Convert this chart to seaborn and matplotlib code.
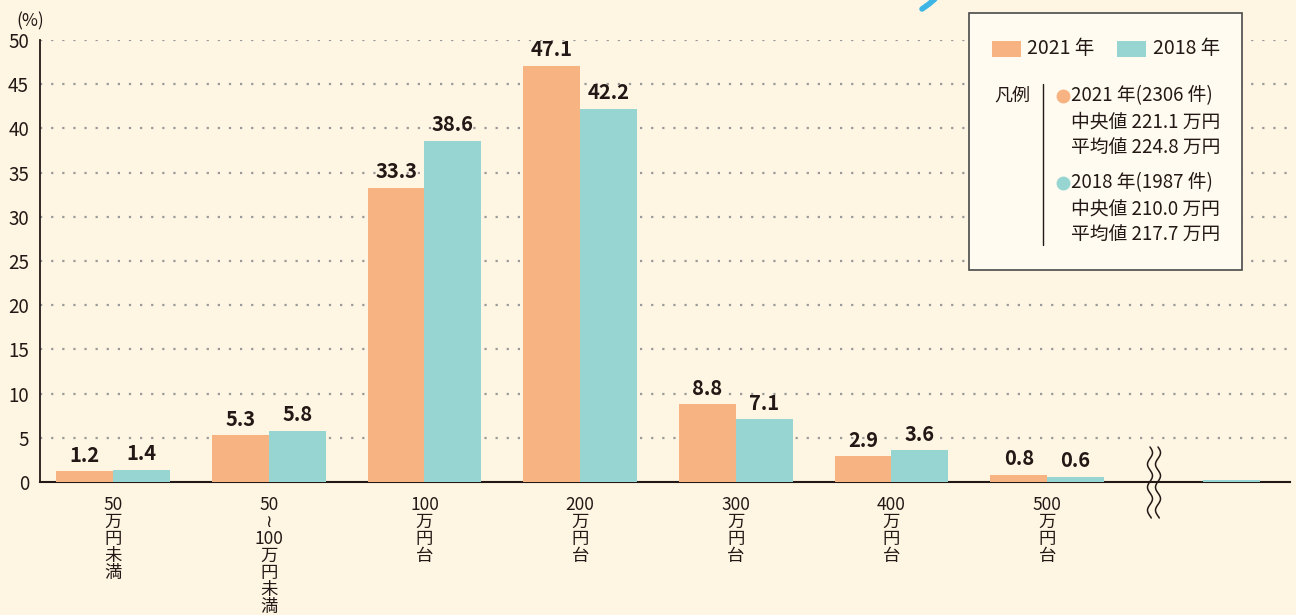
import numpy as np
import pandas as pd
import seaborn as sns
import matplotlib.pyplot as plt
from matplotlib.patches import Rectangle
from matplotlib.lines import Line2D

# data
groups = ["lt50", "50-100", "100", "200", "300", "400", "500", "more"]
group_labels = [
    "50\n万\n円\n未\n満",
    "50\n≀\n100\n万\n円\n未\n満",
    "100\n万\n円\n台",
    "200\n万\n円\n台",
    "300\n万\n円\n台",
    "400\n万\n円\n台",
    "500\n万\n円\n台",
    "",
]
vals_2021 = [1.2, 5.3, 33.3, 47.1, 8.8, 2.9, 0.8, 0.0]
vals_2018 = [1.4, 5.8, 38.6, 42.2, 7.1, 3.6, 0.6, 0.2]
years = ["2021 年", "2018 年"]
colors = ["#F8B383", "#97D5D3"]
yticks = [0, 5, 10, 15, 20, 25, 30, 35, 40, 45, 50]

legend_lines_2021 = ["2021 年(2306 件)", "中央値 221.1 万円", "平均値 224.8 万円"]
legend_lines_2018 = ["2018 年(1987 件)", "中央値 210.0 万円", "平均値 217.7 万円"]

bg = "#FEF5E2"
ink = "#231815"

sns.set_theme(style="white")
plt.rcParams["font.family"] = ["Noto Sans CJK JP", "DejaVu Sans"]

df = pd.DataFrame({
    "group": groups * 2,
    "year": [years[0]] * len(groups) + [years[1]] * len(groups),
    "value": vals_2021 + vals_2018,
})

fig = plt.figure(figsize=(12.96, 6.15), dpi=100, facecolor=bg)
W, H = 1296, 615
fx = lambda x: x / W
fy = lambda y: 1 - y / H

ax = fig.add_axes([fx(40), fy(482), fx(1290) - fx(40), fy(40) - fy(482)])
ax.set_facecolor(bg)

sns.barplot(data=df, x="group", y="value", hue="year", order=groups,
            hue_order=years, palette=colors, width=0.73, saturation=1,
            linewidth=0, edgecolor="none", legend=False, ax=ax, zorder=3)

ax.set_xlim(-0.47, 7.56)
ax.set_ylim(0, 50)
ax.set_yticks(yticks)
ax.set_yticklabels([str(t) for t in yticks], fontsize=13.5, color=ink)
ax.set_xlabel("")
ax.set_ylabel("")

# dotted grid
for t in yticks[1:]:
    ax.axhline(t, color="#9A9A9A", lw=1.6, ls=(0, (1, 4)), zorder=1)

for s in ["top", "right"]:
    ax.spines[s].set_visible(False)
ax.spines["left"].set_color(ink)
ax.spines["bottom"].set_color(ink)
ax.spines["left"].set_linewidth(1.3)
ax.spines["bottom"].set_linewidth(1.5)
ax.spines["bottom"].set_zorder(2)
ax.tick_params(axis="both", length=0)
ax.tick_params(axis="y", pad=8)
ax.tick_params(axis="x", pad=10)
ax.set_xticks(range(len(groups)))
ax.set_xticklabels(group_labels, fontsize=12.5, color=ink, linespacing=0.93, va="top")

# value labels
for bars, vals in zip(ax.containers, [vals_2021, vals_2018]):
    for rect, v in zip(bars, vals):
        if v < 0.5:
            continue
        ax.annotate(f"{v:.1f}", (rect.get_x() + rect.get_width() / 2, v),
                    xytext=(0, 4), textcoords="offset points", ha="center",
                    va="bottom", fontsize=14.5, fontweight="semibold", color=ink)

fig.text(fx(16), fy(21), "(%)", fontsize=12.5, color=ink, va="center")

# axis break mark
yy = np.linspace(447, 518, 80)
for x0 in [1150, 1158]:
    xx = x0 + 2.5 * np.sin(2 * np.pi * (yy - 447) / 23)
    fig.add_artist(Line2D([fx(x) for x in xx], [fy(y) for y in yy],
                          color=ink, lw=1.1, zorder=10))

# decorative stroke at top
fig.add_artist(Line2D([fx(922), fx(929), fx(936)], [fy(9), fy(4), fy(-2)],
                      color="#3DB6E6", lw=4, solid_capstyle="round"))

# legend box
fig.add_artist(Rectangle((fx(969), fy(270)), fx(1242) - fx(969), fy(13) - fy(270),
                         transform=fig.transFigure, facecolor="#FFFBF0",
                         edgecolor="#4A4A4A", lw=1.2, zorder=20))
for (x0, xt), c, lab in zip([(992, 1027), (1117, 1153)], colors, years):
    fig.add_artist(Rectangle((fx(x0), fy(57)), fx(29), fy(41) - fy(57),
                             transform=fig.transFigure, facecolor=c,
                             edgecolor="none", zorder=21))
    fig.text(fx(xt), fy(49), lab, fontsize=14, color=ink, va="center", zorder=22)

fig.text(fx(994), fy(96), "凡例", fontsize=13, color=ink, va="center", zorder=22)
fig.add_artist(Line2D([fx(1043), fx(1043)], [fy(84), fy(245)], color=ink,
                      lw=1, zorder=22))
for y0, c, lines in [(96, colors[0], legend_lines_2021), (183, colors[1], legend_lines_2018)]:
    fig.add_artist(Line2D([fx(1063)], [fy(y0)], marker="o", markersize=10,
                          markerfacecolor=c, markeredgecolor="none", zorder=22))
    for i, t in enumerate(lines):
        fig.text(fx(1071), fy(y0 + i * 26), t, fontsize=13.5, color=ink,
                 va="center", zorder=22)

fig.savefig("out.png", dpi=100, facecolor=bg)
